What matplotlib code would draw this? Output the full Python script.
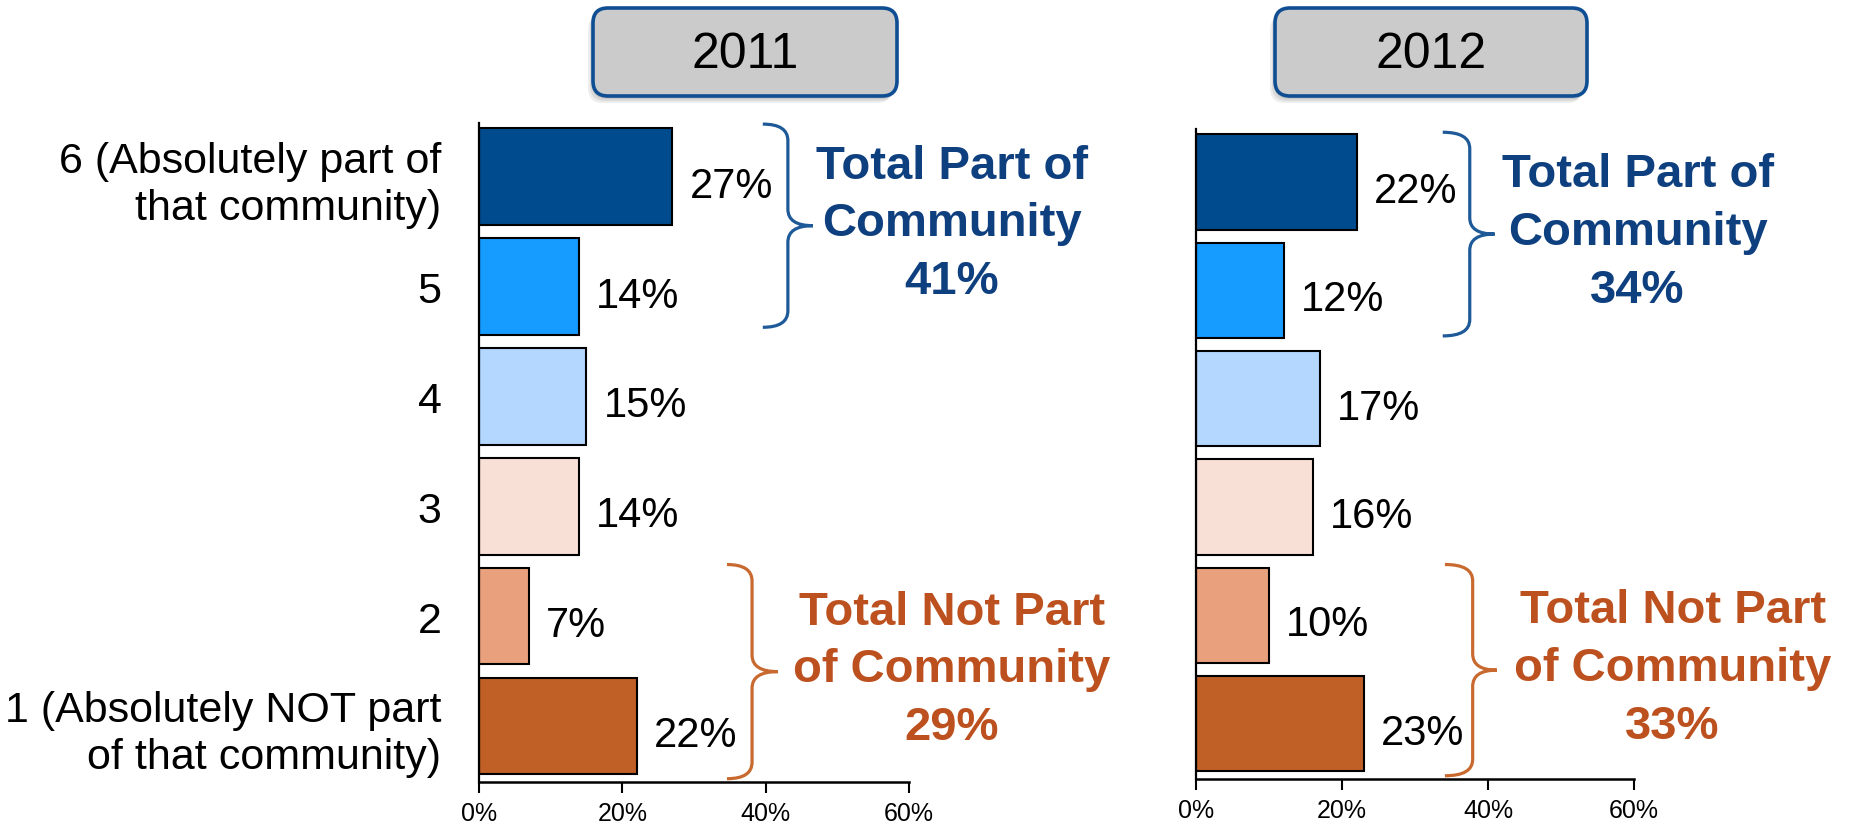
import matplotlib
matplotlib.use("Agg")
import matplotlib.pyplot as plt
from matplotlib.patches import FancyBboxPatch, PathPatch
from matplotlib.path import Path

# dati (dal basso verso l'alto: categoria 1 ... categoria 6)
categories = ['1 (Absolutely NOT part\nof that community)', '2', '3', '4', '5',
              '6 (Absolutely part of\nthat community)']
values_2011 = [22, 7, 14, 15, 14, 27]
values_2012 = [23, 10, 16, 17, 12, 22]
years = ['2011', '2012']
part_totals = [41, 34]        # categorie 5 + 6
not_part_totals = [29, 33]    # categorie 1 + 2
x_ticks = [0, 20, 40, 60]

bar_colors = ['#C05F26', '#E9A07C', '#F8E0D6', '#B3D7FF', '#169BFF', '#004B8D']
blue_text = '#0E3F7E'
orange_text = '#BC511F'
blue_brace = '#1F5A98'
orange_brace = '#C8692F'

plt.rcParams['font.family'] = ['Liberation Sans', 'DejaVu Sans']

W, H = 1856, 828
fig = plt.figure(figsize=(W / 100, H / 100), dpi=100)

# posizione degli assi in pixel: (sinistra, alto, destra, basso)
panel_px = [(479, 124, 909, 783), (1196, 130, 1634, 780)]
# parentesi graffe: (x0, xm, x1, y alto, y basso) in unita' dati, e centro x del testo
brace_top = [(39.6, 43.1, 46.6, 5.48, 3.63, 66.0), (33.8, 37.5, 40.9, 5.46, 3.58, 60.5)]
brace_bot = [(34.6, 38.1, 41.7, 1.47, -0.48, 66.0), (34.1, 37.9, 41.2, 1.47, -0.48, 65.3)]
year_box_px = [(593, 9, 897, 97), (1275, 9, 1587, 97)]


def draw_brace(ax, x0, xm, x1, yt, yb, color, r=0.15):
    ym = (yt + yb) / 2
    verts = [(x0, yt), (xm, yt), (xm, yt - r),
             (xm, ym + r), (xm, ym), (x1, ym),
             (xm, ym), (xm, ym - r),
             (xm, yb + r), (xm, yb), (x0, yb)]
    codes = [Path.MOVETO, Path.CURVE3, Path.CURVE3,
             Path.LINETO, Path.CURVE3, Path.CURVE3,
             Path.CURVE3, Path.CURVE3,
             Path.LINETO, Path.CURVE3, Path.CURVE3]
    ax.add_patch(PathPatch(Path(verts, codes), facecolor='none', edgecolor=color,
                           lw=2.3, clip_on=False, capstyle='butt'))


pos = list(range(len(categories)))
for i, vals in enumerate([values_2011, values_2012]):
    l, t, r, b = panel_px[i]
    ax = fig.add_axes([l / W, 1 - b / H, (r - l) / W, (b - t) / H])
    ax.barh(pos, vals, height=0.88, color=bar_colors, edgecolor='black', linewidth=1.5)
    ax.set_xlim(0, 60)
    ax.set_ylim(-0.51, 5.49)
    for side in ['top', 'right']:
        ax.spines[side].set_visible(False)
    ax.spines['left'].set_linewidth(1.6)
    ax.spines['bottom'].set_linewidth(1.8)
    ax.set_xticks(x_ticks)
    ax.set_xticklabels([f'{v}%' for v in x_ticks], fontsize=18)
    ax.tick_params(axis='x', direction='out', length=8, width=1.5, pad=6)
    if i == 0:
        ax.set_yticks(pos)
        ax.set_yticklabels(categories, fontsize=31, linespacing=1.2)
        for lab in ax.get_yticklabels():
            lab.set_multialignment('right')
        ax.tick_params(axis='y', length=0, pad=27)
    else:
        ax.set_yticks([])

    # etichette dei valori
    for p, v in zip(pos, vals):
        ax.annotate(f'{v}%', (v, p), xytext=(17, -20), textcoords='offset pixels',
                    fontsize=30, va='baseline', ha='left')

    # parentesi e totali
    x0, xm, x1, yt, yb, tx = brace_top[i]
    draw_brace(ax, x0, xm, x1, yt, yb, blue_brace)
    ax.text(tx, (yt + yb) / 2 + 0.02, f'Total Part of\nCommunity\n{part_totals[i]}%',
            color=blue_text, fontsize=34, fontweight='bold', ha='center', va='center',
            linespacing=1.4, clip_on=False)
    x0, xm, x1, yt, yb, tx = brace_bot[i]
    draw_brace(ax, x0, xm, x1, yt, yb, orange_brace)
    ax.text(tx, (yt + yb) / 2 + 0.02, f'Total Not Part\nof Community\n{not_part_totals[i]}%',
            color=orange_text, fontsize=34, fontweight='bold', ha='center', va='center',
            linespacing=1.4, clip_on=False)

# riquadri con gli anni
ov = fig.add_axes([0, 0, 1, 1], zorder=-1)
ov.set_xlim(0, W)
ov.set_ylim(H, 0)
ov.axis('off')
for (l, t, r, b), year in zip(year_box_px, years):
    for k, a in zip([7, 5, 3], [0.10, 0.12, 0.15]):
        ov.add_patch(FancyBboxPatch((l - k + 2, t + k), r - l, b - t,
                                    boxstyle='round,pad=0,rounding_size=15',
                                    facecolor='#555555', edgecolor='none', alpha=a))
    ov.add_patch(FancyBboxPatch((l, t), r - l, b - t, boxstyle='round,pad=0,rounding_size=15',
                                facecolor='#CBCBCB', edgecolor='#0F4E92', linewidth=2.6))
    ov.text((l + r) / 2, (t + b) / 2 + 2, year, fontsize=36, ha='center', va='center')

fig.savefig('out.png', dpi=100)
